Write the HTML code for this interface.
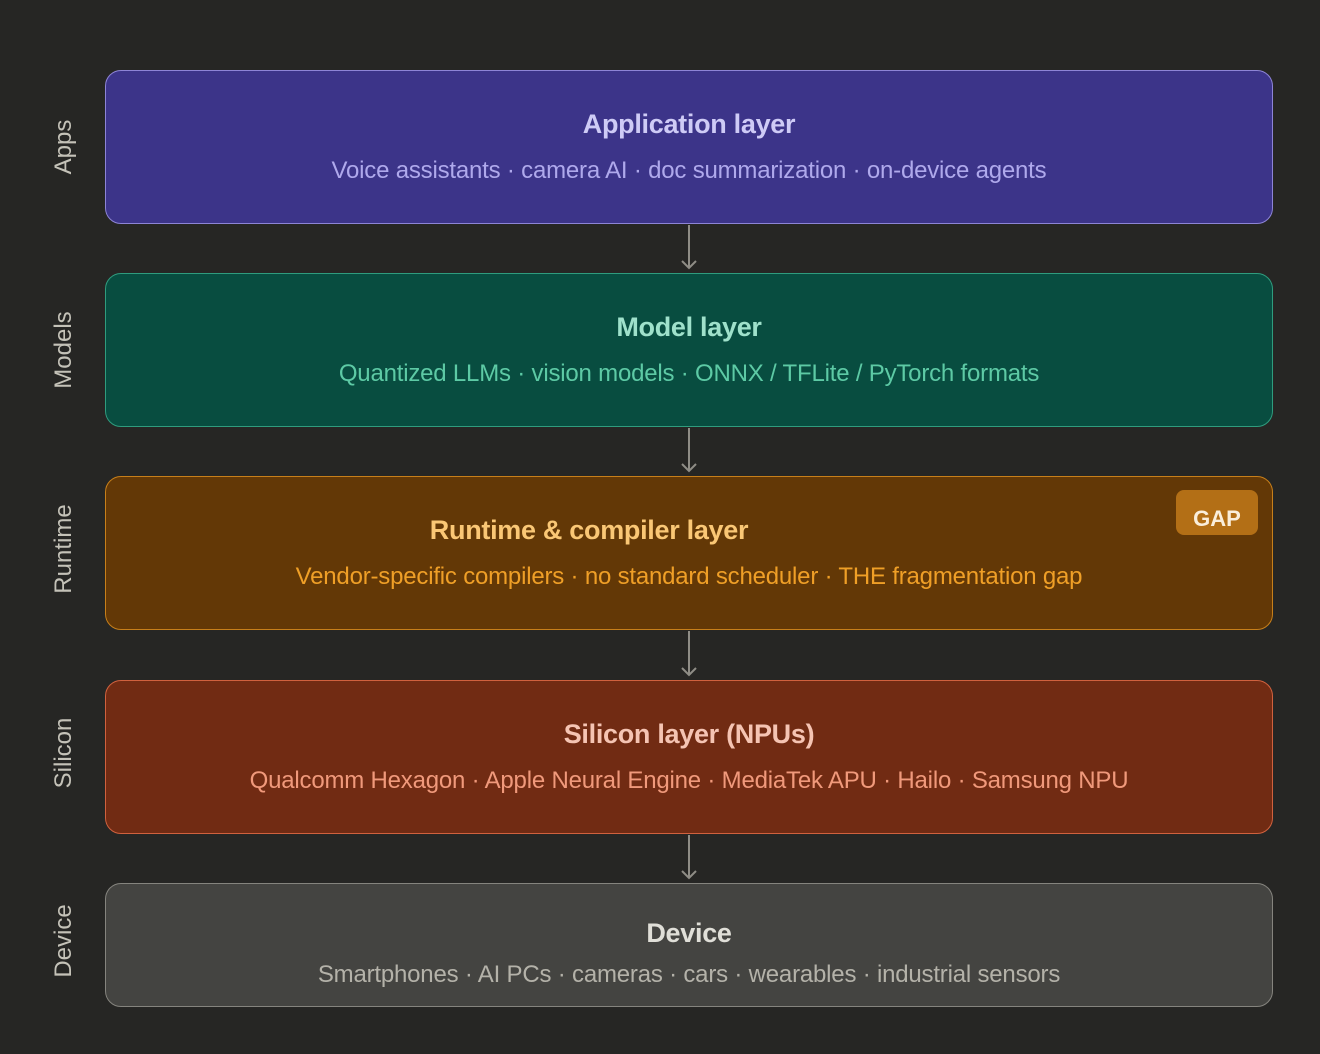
<!DOCTYPE html>
<html><head><style>
body{margin:0;width:1320px;height:1054px;background:#262624;font-family:"Liberation Sans",sans-serif;position:relative;overflow:hidden}
.b{position:absolute;left:105px;width:1168px;border-radius:16px;border:1px solid;box-sizing:border-box}
.t{position:absolute;left:0;right:0;text-align:center;font-weight:bold;font-size:27px;letter-spacing:-0.3px}
.s{position:absolute;left:0;right:0;text-align:center;font-size:24px;letter-spacing:-0.2px}
.l{position:absolute;left:64px;transform:translate(-50%,-50%) rotate(-90deg);color:#c4c2b8;font-size:24px;white-space:nowrap}
</style></head><body>
<div class="b" style="top:70px;height:154px;background:#3c3489;border-color:#8d84d6">
<div class="t" style="top:38px;color:#cecbf6">Application layer</div>
<div class="s" style="top:86px;color:#afa9ec">Voice assistants · camera AI · doc summarization · on-device agents</div></div>
<div class="b" style="top:273px;height:154px;background:#084d40;border-color:#2f9c7e">
<div class="t" style="top:38px;color:#9fe1cb">Model layer</div>
<div class="s" style="top:86px;color:#5dcaa5">Quantized LLMs · vision models · ONNX / TFLite / PyTorch formats</div></div>
<div class="b" style="top:476px;height:154px;background:#633806;border-color:#c77f1a">
<div class="t" style="top:38px;left:-200px;color:#fac775">Runtime &amp; compiler layer</div>
<div class="s" style="top:86px;color:#ef9f27">Vendor-specific compilers · no standard scheduler · THE fragmentation gap</div>
<div style="position:absolute;left:1070px;top:13px;width:82px;height:45px;border-radius:8px;background:#b36f16;color:#faeeda;font-weight:bold;font-size:22px;text-align:center;line-height:58px">GAP</div></div>
<div class="b" style="top:680px;height:154px;background:#712b13;border-color:#d0613e">
<div class="t" style="top:38px;color:#f5c4b3">Silicon layer (NPUs)</div>
<div class="s" style="top:86px;color:#f0997b">Qualcomm Hexagon · Apple Neural Engine · MediaTek APU · Hailo · Samsung NPU</div></div>
<div class="b" style="top:883px;height:124px;background:#444441;border-color:#85847e">
<div class="t" style="top:34px;color:#e0dfd8">Device</div>
<div class="s" style="top:77px;color:#b4b2a9">Smartphones · AI PCs · cameras · cars · wearables · industrial sensors</div></div>
<div class="l" style="top:147px">Apps</div>
<div class="l" style="top:350px">Models</div>
<div class="l" style="top:549px">Runtime</div>
<div class="l" style="top:753px">Silicon</div>
<div class="l" style="top:941px">Device</div>
<svg width="1320" height="1054" style="position:absolute;left:0;top:0" fill="none" stroke="#8f8d86" stroke-width="2">
<path d="M689 225V268M682 261l7 7 7-7"/>
<path d="M689 428V471M682 464l7 7 7-7"/>
<path d="M689 631V675M682 668l7 7 7-7"/>
<path d="M689 835V878M682 871l7 7 7-7"/>
</svg>
</body></html>
